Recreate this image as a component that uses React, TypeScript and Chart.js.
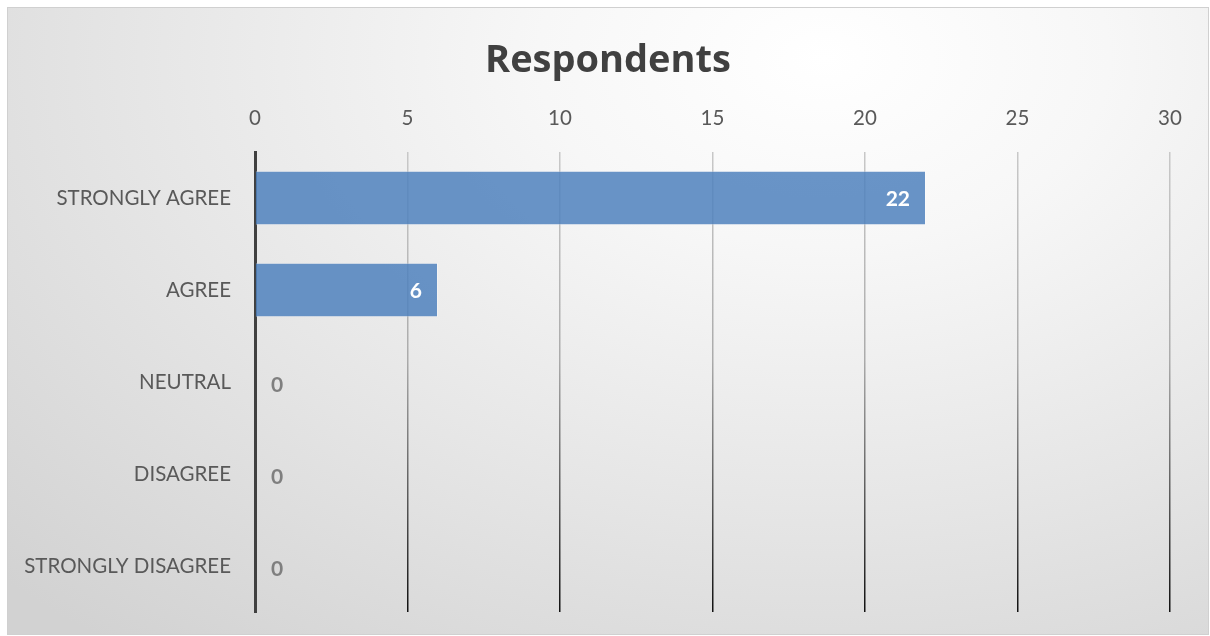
import React, { useEffect, useRef } from "react";
import { Chart, registerables } from "chart.js";

Chart.register(...registerables);

const categories = ["STRONGLY AGREE", "AGREE", "NEUTRAL", "DISAGREE", "STRONGLY DISAGREE"];
const respondents = [22, 6, 0, 0, 0];
const axisMin = 0;
const axisMax = 30;
const axisStep = 5;

const FONT = "Lato, 'Open Sans', sans-serif";
const TITLE_FONT = "'Open Sans', Lato, sans-serif";

const dataLabelPlugin = {
  id: "dataLabels",
  afterDatasetsDraw(chart: any) {
    const ctx = chart.ctx;
    const meta = chart.getDatasetMeta(0);
    const ds = chart.data.datasets[0];
    ctx.save();
    ctx.font = `bold 21px ${FONT}`;
    ctx.textBaseline = "middle";
    meta.data.forEach((bar: any, i: number) => {
      const v = ds.data[i] as number;
      if (v > 0) {
        ctx.fillStyle = "#ffffff";
        ctx.textAlign = "right";
        ctx.fillText(String(v), bar.x - 16, bar.y + 1);
      } else {
        ctx.fillStyle = "#7f7f7f";
        ctx.textAlign = "left";
        ctx.fillText(String(v), bar.base + 16, bar.y + 3);
      }
    });
    ctx.restore();
  },
};

export default function App() {
  const ref = useRef<HTMLCanvasElement | null>(null);

  useEffect(() => {
    if (!ref.current) return;
    let grad: CanvasGradient | null = null;
    let gradKey = "";
    const gridColor = (c: any) => {
      const chart = c.chart;
      const area = chart.chartArea;
      if (!area) return "#bbbbbb";
      const key = `${area.top}-${area.bottom}`;
      if (!grad || key !== gradKey) {
        const g = chart.ctx.createLinearGradient(0, area.top, 0, area.bottom);
        g.addColorStop(0, "#c8c8c8");
        g.addColorStop(0.45, "#ababab");
        g.addColorStop(0.75, "#5a5a5a");
        g.addColorStop(1, "#111111");
        grad = g;
        gradKey = key;
      }
      return grad;
    };

    const chart = new Chart(ref.current, {
      type: "bar",
      data: {
        labels: categories,
        datasets: [
          {
            label: "Respondents",
            data: respondents,
            backgroundColor: "rgba(79,129,189,0.85)",
            borderColor: "rgba(255,255,255,0.35)",
            borderWidth: 1,
            categoryPercentage: 1,
            barPercentage: 0.59,
          },
        ],
      },
      options: {
        indexAxis: "y",
        animation: false,
        responsive: true,
        maintainAspectRatio: false,
        layout: { padding: { left: 8, right: 8, top: 0, bottom: 22 } },
        plugins: {
          legend: { display: false },
          tooltip: { enabled: false },
          title: {
            display: true,
            text: "Respondents",
            color: "#404040",
            font: { family: TITLE_FONT, size: 38, weight: "bold", lineHeight: 1.2 },
            padding: { top: 30, bottom: 6 },
          },
        },
        scales: {
          x: {
            position: "top",
            min: axisMin,
            max: axisMax,
            ticks: {
              stepSize: axisStep,
              color: "#595959",
              font: { family: FONT, size: 20.5 },
              padding: 21.7,
            },
            grid: {
              color: gridColor,
              lineWidth: 1.5,
              drawTicks: false,
            },
            border: { display: false },
            afterFit(scale: any) {
              scale.height = 62.4;
              scale.paddingLeft = 0;
              scale.paddingRight = 38;
            },
          },
          y: {
            ticks: {
              color: "#595959",
              font: { family: FONT, size: 20.5 },
              padding: 24,
            },
            grid: { display: true, color: "rgba(0,0,0,0)", drawTicks: false },
            border: { display: true, color: "#404040", width: 3 },
            afterFit(scale: any) {
              scale.width = 239;
              scale.paddingTop = 0;
              scale.paddingBottom = 0;
            },
          },
        },
      },
      plugins: [dataLabelPlugin],
    });
    return () => chart.destroy();
  }, []);

  return (
    <div
      style={{
        position: "absolute",
        left: 7,
        top: 7,
        width: 1200,
        height: 626,
        border: "1px solid #d0d0d0",
        background:
          "radial-gradient(ellipse 95% 120% at 68% 8%, #ffffff 0%, #f7f7f7 25%, #e6e6e6 60%, #d2d2d2 100%)",
      }}
    >
      <canvas ref={ref} />
    </div>
  );
}
